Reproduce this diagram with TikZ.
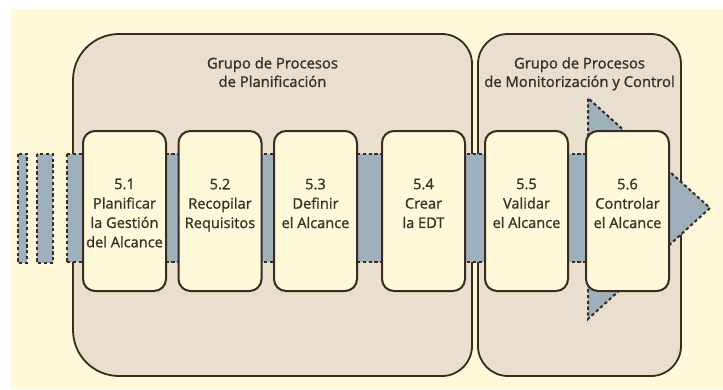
\documentclass[tikz,border=0pt]{standalone}
\usepackage{fontspec}
\setmainfont{Open Sans}[RawFeature={embolden=1.1}]
\definecolor{paper}{HTML}{FFF9DA}
\definecolor{groupfill}{HTML}{E8DFCF}
\definecolor{flow}{HTML}{9EB0BC}
\definecolor{ink}{HTML}{3A2A22}
\definecolor{textink}{HTML}{3B2E27}
\begin{document}
\begin{tikzpicture}[x=1pt,y=-1pt,
  groupbox/.style={fill=groupfill,draw=ink,line width=1.8pt},
  flowedge/.style={draw=ink,line width=2pt,dash pattern=on 3.2pt off 2.6pt},
  pbox/.style={draw=ink,fill=paper,line width=2pt,rounded corners=12pt,
    minimum width=83pt,minimum height=160pt,inner sep=0pt},
  ptext/.style={text=textink,font=\fontsize{14.6}{19.4}\selectfont,align=center,
    anchor=north,inner sep=0pt},
  gtext/.style={text=textink,font=\fontsize{14.8}{18.5}\selectfont,align=center,
    anchor=north,inner sep=0pt}]
% canvas
\useasboundingbox (0,0) rectangle (723,389);
\fill[white] (0,0) rectangle (723,389);
\fill[paper] (11,9) rectangle (723,389);

% process groups
\draw[groupbox] (73,80) arc[start angle=180,end angle=270,radius=46]
  -- (442,34) arc[start angle=270,end angle=360,radius=30]
  -- (472,346) arc[start angle=0,end angle=90,radius=30]
  -- (119,376) arc[start angle=90,end angle=180,radius=46] -- cycle;
\draw[groupbox,rounded corners=30pt] (478,34) rectangle (681,376);

% flow band with its arrow head
\fill[flow] (67,154) rectangle (588,262);
\fill[flow] (588,98) -- (710,208) -- (588,319) -- cycle;
\draw[flowedge] (67,154) -- (588,154);
\draw[flowedge] (67,262) -- (588,262);
\draw[flowedge] (67,154) -- (67,262);
\draw[flowedge] (588,154) -- (588,98) -- (710,208) -- (588,319) -- (588,262);

% incoming flow strips
\filldraw[fill=flow,flowedge] (18,154) rectangle (27,263);
\filldraw[fill=flow,flowedge] (37,154) rectangle (53,263);

% processes
\node[pbox] (p1) at (124.5,211) {};
\node[pbox] (p2) at (220,211) {};
\node[pbox] (p3) at (315.5,211) {};
\node[pbox] (p4) at (423.5,211) {};
\node[pbox] (p5) at (526.5,211) {};
\node[pbox] (p6) at (627.5,211) {};

\node[ptext] (t1) at ([yshift=-48.5pt]p1.north) {5.1\\Planificar\\la Gestión\\del Alcance};
\node[ptext] (t2) at ([yshift=-48.5pt]p2.north) {5.2\\Recopilar\\Requisitos};
\node[ptext] (t3) at ([yshift=-48.5pt]p3.north) {5.3\\Definir\\el Alcance};
\node[ptext] (t4) at ([yshift=-48.5pt]p4.north) {5.4\\Crear\\la EDT};
\node[ptext] (t5) at ([yshift=-48.5pt]p5.north) {5.5\\Validar\\el Alcance};
\node[ptext] (t6) at ([yshift=-48.5pt]p6.north) {5.6\\Controlar\\el Alcance};

% group titles
\node[gtext] (g1) at (272.5,57) {Grupo de Procesos\\de Planificación};
\node[gtext] (g2) at (579.5,57) {Grupo de Procesos\\de Monitorización y Control};
\end{tikzpicture}
\end{document}
